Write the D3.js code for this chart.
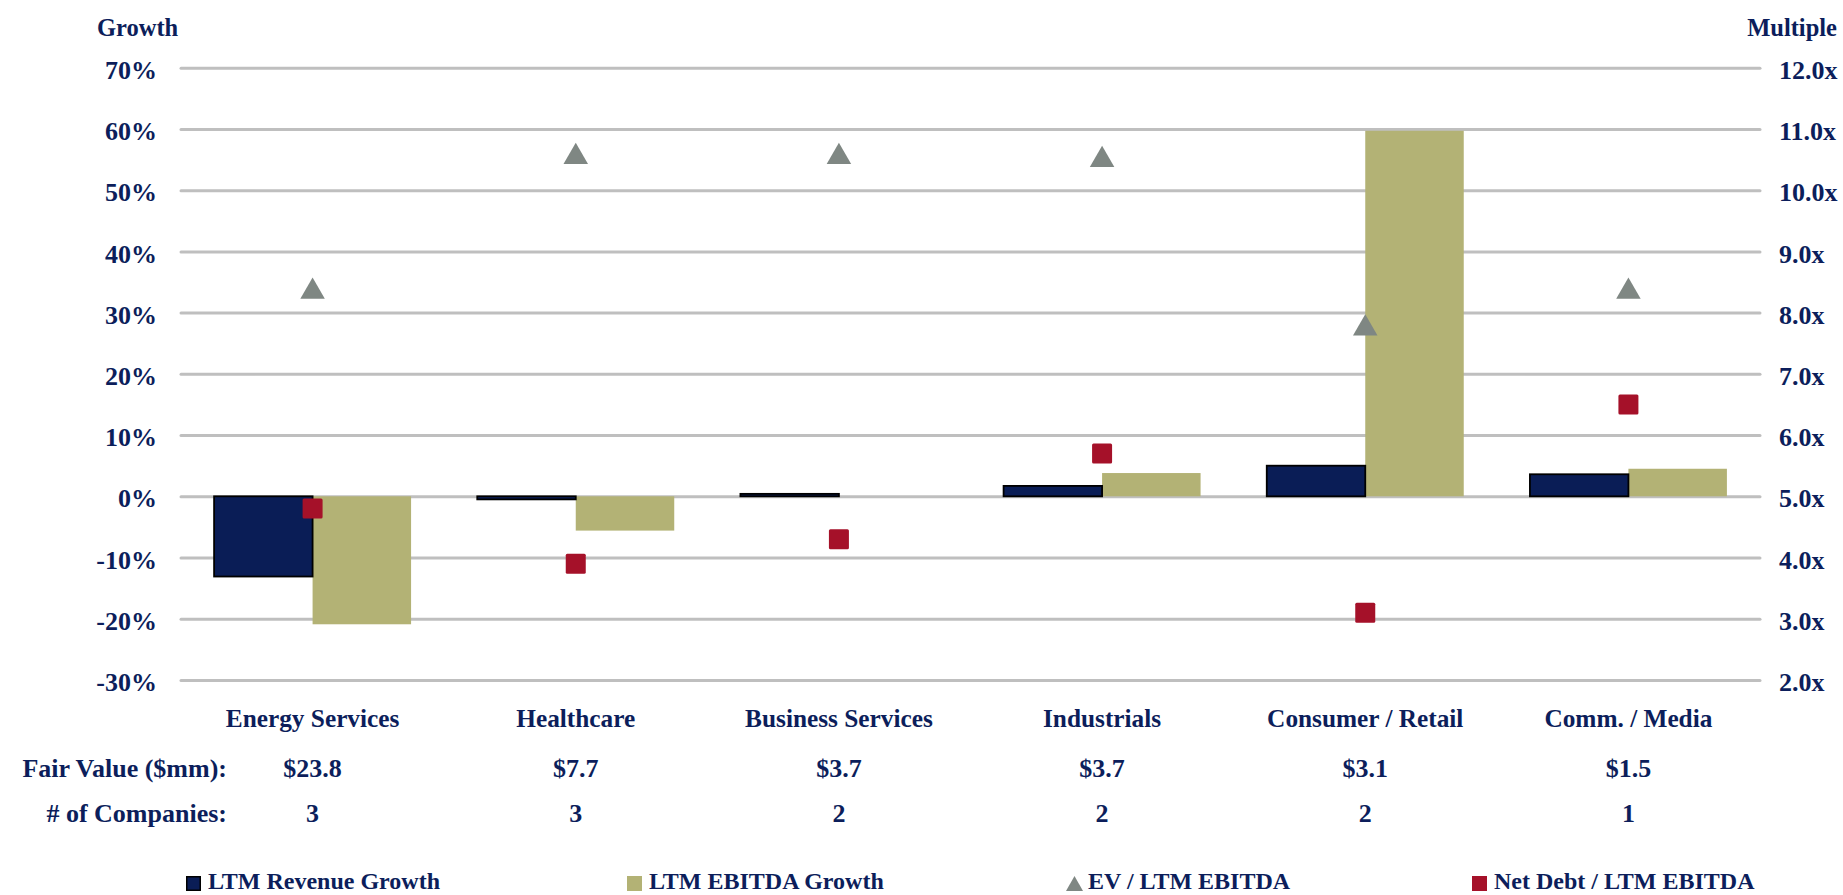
<!DOCTYPE html>
<html>
<head>
<meta charset="utf-8">
<script src="https://cdn.jsdelivr.net/npm/d3@7"></script>
<style>
  body { margin: 0; background: #fff; }
  text { font-family: "Liberation Serif", "Times New Roman", serif; font-weight: bold; fill: #0c1e5b; }
</style>
</head>
<body>
<div id="chart"></div>
<script>
// data
const categories = ["Energy Services", "Healthcare", "Business Services", "Industrials", "Consumer / Retail", "Comm. / Media"];
const revenueGrowth = [-13.1, -0.5, 0.4, 1.7, 5.0, 3.6];
const ebitdaGrowth = [-20.9, -5.6, 0.0, 3.8, 59.7, 4.5];
const evMultiple = [8.4, 10.6, 10.6, 10.55, 7.8, 8.4];
const netDebtMultiple = [4.8, 3.9, 4.3, 5.7, 3.1, 6.5];
const fairValue = ["$23.8", "$7.7", "$3.7", "$3.7", "$3.1", "$1.5"];
const companies = [3, 3, 2, 2, 2, 1];
const growthTicks = [-30, -20, -10, 0, 10, 20, 30, 40, 50, 60, 70];
const multipleTicks = [2, 3, 4, 5, 6, 7, 8, 9, 10, 11, 12];
const seriesNames = ["LTM Revenue Growth", "LTM EBITDA Growth", "EV / LTM EBITDA", "Net Debt / LTM EBITDA"];

const W = 1843, H = 895;
const plotLeft = 181, plotRight = 1760, plotTop = 67.7, plotBottom = 680;
const navy = "#0a1d56", olive = "#b3b275", grey = "#7f8783", red = "#a51129";

const svg = d3.select("#chart").append("svg")
    .attr("width", W)
    .attr("height", H);

const x = d3.scaleBand().domain(categories).range([plotLeft, plotRight]);
const xSub = d3.scaleBand().domain(["rev", "ebitda"]).range([0, x.bandwidth()]).paddingOuter(0.336);
const yL = d3.scaleLinear().domain([-30, 70]).range([plotBottom, plotTop]);
const yR = d3.scaleLinear().domain([2, 12]).range([plotBottom, plotTop]);

// left axis + gridlines
const gL = svg.append("g")
    .attr("transform", "translate(" + plotLeft + ",0)")
    .call(d3.axisLeft(yL).tickValues(growthTicks).tickSize(-(plotRight - plotLeft)).tickPadding(24).tickFormat(d => d + "%"));
gL.select(".domain").remove();
gL.selectAll(".tick line").attr("stroke", "#bfbfbf").attr("stroke-width", 3).attr("stroke-linecap", "round");
gL.selectAll(".tick text").style("font-size", "26px").attr("dy", "0.41em");

// right axis
const gR = svg.append("g")
    .attr("transform", "translate(" + plotRight + ",0)")
    .call(d3.axisRight(yR).tickValues(multipleTicks).tickSize(0).tickPadding(19).tickFormat(d => d.toFixed(1) + "x"));
gR.select(".domain").remove();
gR.selectAll(".tick text").style("font-size", "26px").attr("dy", "0.41em");

svg.selectAll(".tick text").attr("fill", "#0c1e5b").style("font-family", "'Liberation Serif', serif").style("font-weight", "bold");

svg.append("text").attr("x", 97).attr("y", 36).style("font-size", "24.5px").text("Growth");
svg.append("text").attr("x", 1837).attr("y", 36).attr("text-anchor", "end").style("font-size", "24.5px").text("Multiple");

// bars
const groups = svg.selectAll(".cat")
    .data(categories)
    .join("g")
    .attr("transform", d => "translate(" + x(d) + ",0)");

groups.append("rect")
    .attr("x", xSub("ebitda"))
    .attr("width", xSub.bandwidth())
    .attr("y", (d, i) => yL(Math.max(0, ebitdaGrowth[i])))
    .attr("height", (d, i) => Math.abs(yL(ebitdaGrowth[i]) - yL(0)))
    .attr("fill", olive);

groups.append("rect")
    .attr("x", xSub("rev"))
    .attr("width", xSub.bandwidth())
    .attr("y", (d, i) => yL(Math.max(0, revenueGrowth[i])))
    .attr("height", (d, i) => Math.abs(yL(revenueGrowth[i]) - yL(0)))
    .attr("fill", navy)
    .attr("stroke", "#000")
    .attr("stroke-width", 1.8);

// EV / LTM EBITDA triangles
const triSize = 260;
const tri = d3.symbol().type(d3.symbolTriangle).size(triSize);
const triH = Math.sqrt(triSize * 4 / Math.sqrt(3)) * Math.sqrt(3) / 2;
svg.selectAll(".ev")
    .data(evMultiple)
    .join("path")
    .attr("d", tri)
    .attr("transform", (d, i) => "translate(" + (x(categories[i]) + x.bandwidth() / 2) + "," + (yR(d) + triH / 6) + ")")
    .attr("fill", grey);

// Net debt squares
svg.selectAll(".nd")
    .data(netDebtMultiple)
    .join("rect")
    .attr("x", (d, i) => x(categories[i]) + x.bandwidth() / 2 - 10)
    .attr("y", d => yR(d) - 10)
    .attr("width", 20)
    .attr("height", 20)
    .attr("rx", 1.5)
    .attr("fill", red);

// category labels and table rows
svg.selectAll(".catlabel")
    .data(categories)
    .join("text")
    .attr("x", d => x(d) + x.bandwidth() / 2)
    .attr("y", 726.7)
    .attr("text-anchor", "middle")
    .style("font-size", "25.3px")
    .text(d => d);

svg.selectAll(".fv")
    .data(fairValue)
    .join("text")
    .attr("x", (d, i) => x(categories[i]) + x.bandwidth() / 2)
    .attr("y", 777.3)
    .attr("text-anchor", "middle")
    .style("font-size", "26px")
    .text(d => d);

svg.selectAll(".nc")
    .data(companies)
    .join("text")
    .attr("x", (d, i) => x(categories[i]) + x.bandwidth() / 2)
    .attr("y", 821.7)
    .attr("text-anchor", "middle")
    .style("font-size", "26px")
    .text(d => d);

svg.append("text").attr("x", 227).attr("y", 777.3).attr("text-anchor", "end").style("font-size", "26px").text("Fair Value ($mm):");
svg.append("text").attr("x", 227).attr("y", 821.7).attr("text-anchor", "end").style("font-size", "26px").text("# of Companies:");

// legend
const legendX = [186, 627, 1066, 1472];
const legend = svg.selectAll(".legend")
    .data(seriesNames)
    .join("g")
    .attr("transform", (d, i) => "translate(" + legendX[i] + ",876)");

legend.each(function(d, i) {
    const g = d3.select(this);
    if (i === 0) {
        g.append("rect").attr("x", 0.75).attr("y", 0.75).attr("width", 13.5).attr("height", 13.5)
            .attr("fill", navy).attr("stroke", "#000").attr("stroke-width", 1.5);
    } else if (i === 1) {
        g.append("rect").attr("width", 15).attr("height", 15).attr("fill", olive);
    } else if (i === 2) {
        g.append("path").attr("d", "M0,15 L8.5,0 L17,15 Z").attr("fill", grey);
    } else {
        g.append("rect").attr("width", 15).attr("height", 15).attr("fill", red);
    }
    g.append("text")
        .attr("x", 22)
        .attr("y", 13)
        .style("font-size", "24px")
        .text(d);
});
</script>
</body>
</html>
